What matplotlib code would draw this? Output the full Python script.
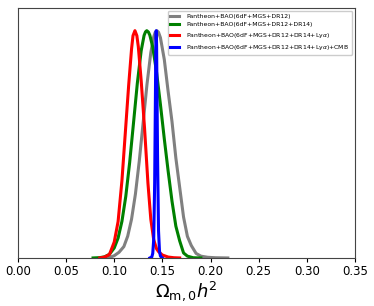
import matplotlib
matplotlib.use('Agg')
import matplotlib.pyplot as plt

# posterior of Omega_m0 h^2, peak normalised to 1
x_gray = [0.088, 0.095, 0.100, 0.105, 0.110, 0.114, 0.118, 0.122, 0.126, 0.130,
          0.134, 0.138, 0.141, 0.1425, 0.1443, 0.146, 0.148, 0.152, 0.156, 0.160,
          0.164, 0.168, 0.172, 0.176, 0.180, 0.185, 0.190, 0.197, 0.205, 0.218]
y_gray = [0.0, 0.002, 0.010, 0.025, 0.050, 0.096, 0.171, 0.281, 0.426, 0.594,
          0.763, 0.904, 0.973, 0.992, 1.0, 0.993, 0.969, 0.873, 0.732, 0.600,
          0.440, 0.310, 0.180, 0.095, 0.055, 0.020, 0.008, 0.003, 0.001, 0.0]

x_green = [0.078, 0.085, 0.090, 0.095, 0.100, 0.104, 0.108, 0.112, 0.116, 0.120,
           0.124, 0.128, 0.131, 0.1325, 0.1338, 0.1355, 0.137, 0.140, 0.144, 0.148,
           0.152, 0.156, 0.160, 0.164, 0.168, 0.172, 0.176, 0.182, 0.190]
y_green = [0.0, 0.0015, 0.005, 0.016, 0.044, 0.0875, 0.161, 0.271, 0.419, 0.593,
           0.769, 0.912, 0.979, 0.995, 1.0, 0.994, 0.980, 0.928, 0.816, 0.675,
           0.524, 0.382, 0.250, 0.140, 0.075, 0.022, 0.008, 0.001, 0.0]

x_red = [0.085, 0.090, 0.095, 0.100, 0.104, 0.108, 0.1115, 0.115, 0.118, 0.1195,
         0.1215, 0.1235, 0.125, 0.128, 0.1315, 0.135, 0.138, 0.141, 0.144, 0.146,
         0.150, 0.156, 0.162, 0.168]
y_red = [0.0, 0.004, 0.015, 0.070, 0.160, 0.340, 0.550, 0.760, 0.920, 0.978,
         1.0, 0.978, 0.930, 0.780, 0.570, 0.330, 0.170, 0.080, 0.040, 0.028,
         0.013, 0.004, 0.001, 0.0]

x_blue = [0.137, 0.139, 0.140, 0.141, 0.142, 0.1428, 0.1432, 0.1436, 0.1440, 0.1444,
          0.145, 0.146, 0.147, 0.148, 0.150]
y_blue = [0.0, 0.004, 0.020, 0.080, 0.330, 0.720, 0.936, 1.0, 0.936, 0.740,
          0.450, 0.120, 0.030, 0.008, 0.0]

labels = ['Pantheon+BAO(6dF+MGS+DR12)',
          'Pantheon+BAO(6dF+MGS+DR12+DR14)',
          r'Pantheon+BAO(6dF+MGS+DR12+DR14+Ly$\alpha$)',
          r'Pantheon+BAO(6dF+MGS+DR12+DR14+Ly$\alpha$)+CMB']
xticks = [0.00, 0.05, 0.10, 0.15, 0.20, 0.25, 0.30, 0.35]

fig = plt.figure(figsize=(3.74, 3.06), dpi=100)
ax = fig.add_axes([0.048, 0.157, 0.901, 0.817])

ax.plot(x_gray, y_gray, color='gray', lw=2.2, label=labels[0])
ax.plot(x_green, y_green, color='green', lw=2.2, label=labels[1])
ax.plot(x_red, y_red, color='red', lw=2.2, label=labels[2])
ax.plot(x_blue, y_blue, color='blue', lw=2.2, label=labels[3])

ax.set_xlim(0, 0.35)
ax.set_ylim(0, 1.1)
ax.set_yticks([])
ax.set_xticks(xticks)
ax.set_xticklabels(['%.2f' % t for t in xticks], fontsize=8.5)
ax.tick_params(axis='x', length=3, pad=2)
ax.set_xlabel(r'$\Omega_{\mathrm{m,0}}h^2$', fontsize=13, labelpad=1)
for s in ax.spines.values():
    s.set_color('#444444')

ax.legend(loc='upper right', fontsize=4.4, handlelength=1.5, handletextpad=1.2,
          borderaxespad=0.5, labelspacing=0.55, framealpha=1, fancybox=True)

plt.savefig('out.png', dpi=100)
